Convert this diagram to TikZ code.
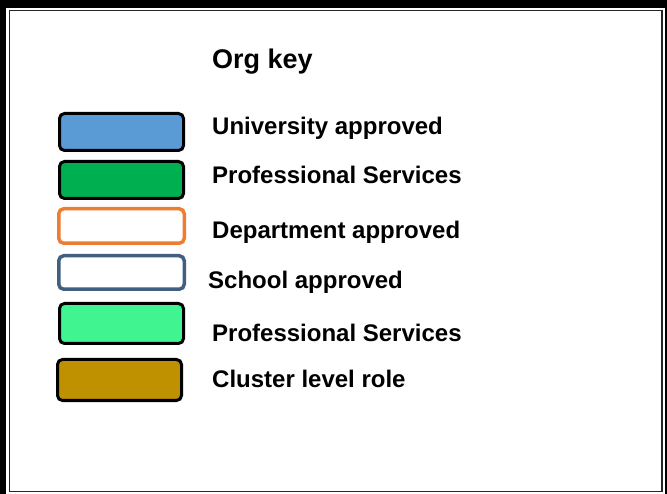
\documentclass[tikz,border=0pt]{standalone}
\usepackage{fontspec}
\setmainfont{Liberation Sans}
\usetikzlibrary{positioning}
\definecolor{univblue}{HTML}{5B9BD5}
\definecolor{psgreen}{HTML}{00B050}
\definecolor{deptorange}{HTML}{ED7D31}
\definecolor{schoolslate}{HTML}{41607F}
\definecolor{psmint}{HTML}{40F590}
\definecolor{clustergold}{HTML}{BF9000}
\tikzset{keybox/.style={draw=black,line width=3pt,rounded corners=5pt,minimum width=124pt,minimum height=37pt,inner sep=0pt},
	keylabel/.style={anchor=base west,inner sep=0pt,font=\fontsize{24}{28}\selectfont\bfseries}}

\begin{document}
\begin{tikzpicture}[x=1pt,y=-1pt]
			\useasboundingbox (0,0) rectangle (667,494);
			\fill[black] (0,0) rectangle (667,494); \fill[white] (6,8) rectangle (665,494);
			\draw[line width=1.5pt,black!85] (9.5,10.5) rectangle (662,491.5);
			
			\node[anchor=base west,inner sep=0pt,font=\fontsize{27}{32}\selectfont\bfseries] (title) at (212,69) {Org key};
			
			\node[keybox,fill=univblue] (univ) at (121.5,132) {}; \node[keylabel] (univtxt) at (212,134.5) {University approved};
			\node[keybox,fill=psgreen] (ps) at (121.5,180) {}; \node[keylabel] (pstxt) at (212,184) {Professional Services};
			\node[keybox,draw=deptorange,line width=3.5pt,fill=white,minimum width=125.5pt,minimum height=34.5pt] (dept) at (121.5,226) {}; \node[keylabel] (depttxt) at (212,239) {Department approved};
			\node[keybox,draw=schoolslate,line width=3.5pt,fill=white,minimum width=125.5pt,minimum height=33.5pt] (school) at (121.5,272.5) {}; \node[keylabel] (schooltxt) at (208,289) {School approved};
			\node[keybox,fill=psmint,minimum height=40pt] (psb) at (121.5,323.5) {}; \node[keylabel] (psbtxt) at (212,341.5) {Professional Services};
			\node[keybox,fill=clustergold,minimum height=41pt] (cluster) at (119.5,380) {}; \node[keylabel] (clustertxt) at (212,387.5) {Cluster level role};
\end{tikzpicture}
\end{document}
